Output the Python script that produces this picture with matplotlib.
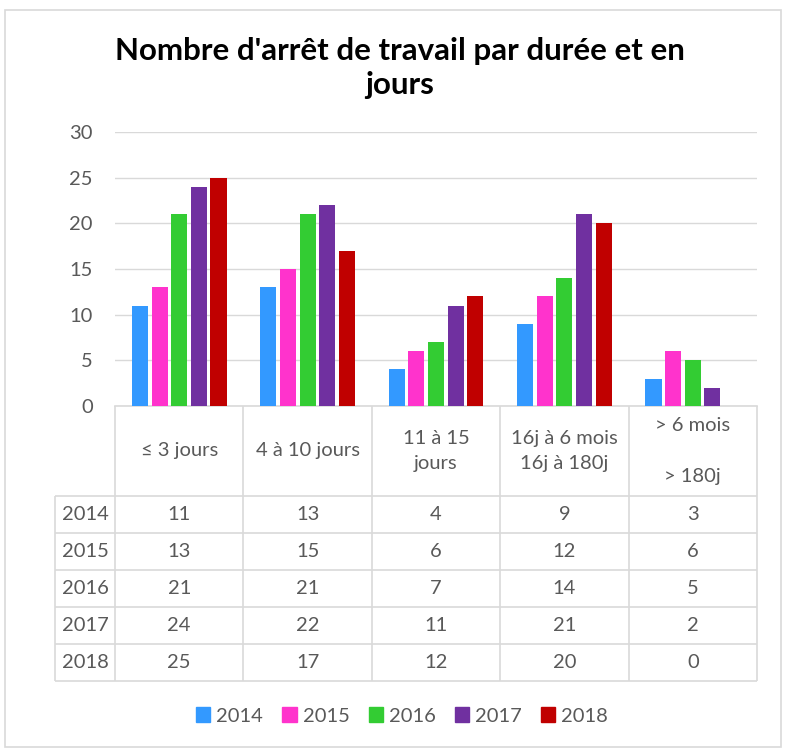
import matplotlib.pyplot as plt
import numpy as np
from matplotlib.patches import Patch, Rectangle

# Données du graphique
categories = ["≤ 3 jours", "4 à 10 jours", "11 à 15\njours", "16j à 6 mois\n16j à 180j", "> 6 mois\n\n> 180j"]
annees = ["2014", "2015", "2016", "2017", "2018"]
v2014 = [11, 13, 4, 9, 3]
v2015 = [13, 15, 6, 12, 6]
v2016 = [21, 21, 7, 14, 5]
v2017 = [24, 22, 11, 21, 2]
v2018 = [25, 17, 12, 20, 0]
series = [v2014, v2015, v2016, v2017, v2018]
couleurs = ["#3399FF", "#FF33CC", "#33CC33", "#7030A0", "#C00000"]
yticks = [0, 5, 10, 15, 20, 25, 30]

gris = "#595959"
ligne = "#D9D9D9"
police = ["Lato", "DejaVu Sans"]
plt.rcParams["font.family"] = police
taille = 14.5

W, H = 792, 749
fig = plt.figure(figsize=(W / 100, H / 100), dpi=100)

# cadre extérieur
fig.patches.append(Rectangle((5 / W, 2 / H), 776 / W, 737 / H, transform=fig.transFigure,
                             fill=False, edgecolor=ligne, linewidth=1.2))

# zone des barres (en pixels : x 115-757, y 132-406)
ax = fig.add_axes([115 / W, (H - 406) / H, 642 / W, 274 / H])
x = np.arange(len(categories))
larg = 0.125
pas = 0.153
for k, (vals, c) in enumerate(zip(series, couleurs)):
    ax.bar(x + (k - 2) * pas, vals, width=larg, color=c, zorder=3)
ax.set_xlim(-0.5, 4.5)
ax.set_ylim(0, 30)
ax.set_yticks(yticks)
ax.yaxis.grid(True, color=ligne, linewidth=1, zorder=0)
ax.set_xticks([])
for s in ["top", "right", "left"]:
    ax.spines[s].set_visible(False)
ax.spines["bottom"].set_color(ligne)
ax.spines["bottom"].set_linewidth(1.2)
ax.tick_params(axis="y", length=0, pad=16, labelsize=taille, labelcolor=gris)

# tableau de données sous le graphique
tab = fig.add_axes([55 / W, (H - 681) / H, 702 / W, 275 / H])
wl = 60 / 128.4
tab.set_xlim(-0.5 - wl, 4.5)
tab.set_ylim(275, 0)
tab.axis("off")
h_ent = 90
h_row = 37
bords = np.arange(len(categories) + 1) - 0.5
tab.vlines(bords, 0, 275, color=ligne, linewidth=1.2, clip_on=False)
tab.vlines(-0.5 - wl, h_ent, 275, color=ligne, linewidth=1.2, clip_on=False)
ys = h_ent + h_row * np.arange(len(annees) + 1)
tab.hlines(ys, -0.5 - wl, 4.5, color=ligne, linewidth=1.2, clip_on=False)

for i, cat in enumerate(categories):
    tab.text(i, h_ent / 2, cat, ha="center", va="center", fontsize=taille, color=gris,
             linespacing=1.6, family=police)
for j, (an, vals) in enumerate(zip(annees, series)):
    yc = h_ent + h_row * (j + 0.5)
    tab.text(-0.5 - wl / 2, yc, an, ha="center", va="center", fontsize=taille, color=gris)
    for i, v in enumerate(vals):
        tab.text(i, yc, str(v), ha="center", va="center", fontsize=taille, color=gris)

# titre
fig.text(400 / W, 1 - 68 / H, "Nombre d'arrêt de travail par durée et en\njours",
         ha="center", va="center", fontsize=22.5, fontweight="bold", color="black", linespacing=1.25)

# légende
poignees = [Patch(facecolor=c, edgecolor=c) for c in couleurs]
fig.legend(poignees, annees, loc="center", bbox_to_anchor=(402 / W, 1 - 716 / H), ncol=5,
           frameon=False, fontsize=taille, labelcolor=gris, handlelength=0.7, handleheight=0.7,
           handletextpad=0.3, columnspacing=0.95)

fig.savefig("out.png", dpi=100)
